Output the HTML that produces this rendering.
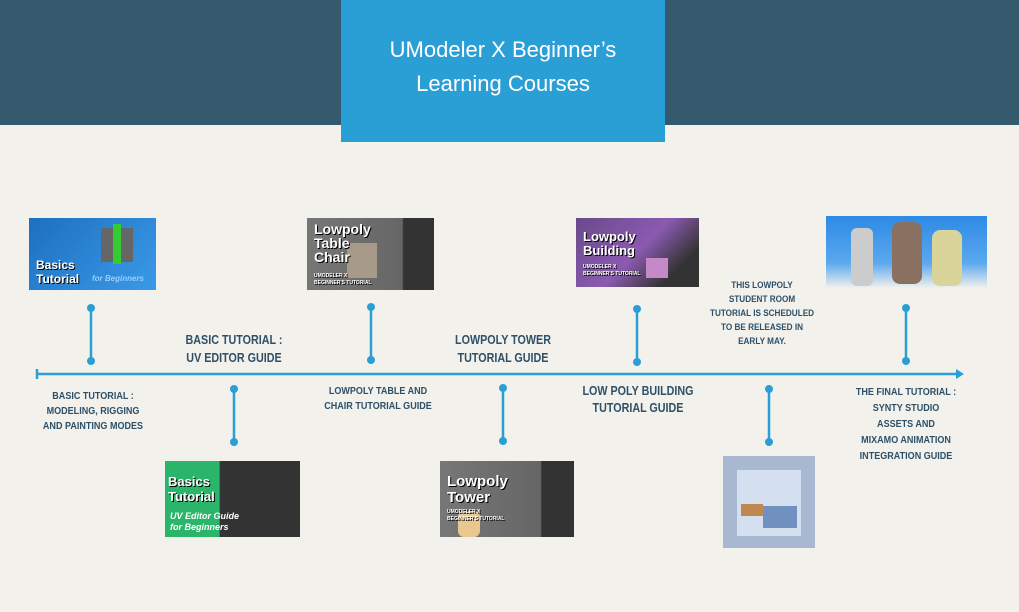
<!DOCTYPE html>
<html><head><meta charset="utf-8"><style>
*{margin:0;padding:0;box-sizing:border-box}
body{width:1019px;height:612px;background:#f2f1ec;position:relative;overflow:hidden;font-family:"Liberation Sans",sans-serif}
.hdr{position:absolute;left:0;top:0;width:1019px;height:125px;background:#355a6e}
.box{position:absolute;left:341px;top:0;width:324px;height:142px;background:#2a9fd6;color:#fff;font-family:"Liberation Sans",sans-serif;font-size:22px;text-align:center;line-height:34px;padding-top:33px}
.t{position:absolute;color:#2e5068;font-weight:bold;text-align:center;transform:translateX(-50%) scaleX(0.86);white-space:nowrap}
.img{position:absolute;overflow:hidden;font-family:"Liberation Sans",sans-serif;font-weight:bold;color:#fff}
.img b{position:absolute;text-shadow:1px 1px 0 #000}
</style></head><body>
<div class="hdr"></div>
<div class="box">UModeler X Beginner’s<br>Learning Courses</div>

<svg width="1019" height="612" style="position:absolute;left:0;top:0">
<g stroke="#2a9fd6" stroke-width="2.5" fill="#2a9fd6">
<line x1="37" y1="374" x2="958" y2="374"/>
<line x1="37" y1="369" x2="37" y2="379"/>
<polygon points="956,369 964,374 956,379" stroke="none"/>
<line x1="91" y1="308" x2="91" y2="361"/><circle cx="91" cy="308" r="4" stroke="none"/><circle cx="91" cy="361" r="4" stroke="none"/>
<line x1="371" y1="307" x2="371" y2="360"/><circle cx="371" cy="307" r="4" stroke="none"/><circle cx="371" cy="360" r="4" stroke="none"/>
<line x1="637" y1="309" x2="637" y2="362"/><circle cx="637" cy="309" r="4" stroke="none"/><circle cx="637" cy="362" r="4" stroke="none"/>
<line x1="906" y1="308" x2="906" y2="361"/><circle cx="906" cy="308" r="4" stroke="none"/><circle cx="906" cy="361" r="4" stroke="none"/>
<line x1="234" y1="389" x2="234" y2="442"/><circle cx="234" cy="389" r="4" stroke="none"/><circle cx="234" cy="442" r="4" stroke="none"/>
<line x1="503" y1="388" x2="503" y2="441"/><circle cx="503" cy="388" r="4" stroke="none"/><circle cx="503" cy="441" r="4" stroke="none"/>
<line x1="769" y1="389" x2="769" y2="442"/><circle cx="769" cy="389" r="4" stroke="none"/><circle cx="769" cy="442" r="4" stroke="none"/>
</g></svg>

<div class="img" style="left:29px;top:218px;width:127px;height:72px;background:linear-gradient(135deg,#1e6fc0,#3a9ae8)">
<div style="position:absolute;left:72px;top:10px;width:32px;height:34px;background:#666"></div>
<div style="position:absolute;left:84px;top:6px;width:8px;height:40px;background:#3c3"></div>
<b style="left:7px;top:40px;font-size:12px;line-height:14px">Basics<br>Tutorial</b><b style="left:63px;top:56px;font-size:8px;font-style:italic;color:#9cf;text-shadow:none">for Beginners</b></div>

<div class="img" style="left:307px;top:218px;width:127px;height:72px;background:linear-gradient(90deg,#777,#666 75%,#333 76%)">
<div style="position:absolute;left:40px;top:25px;width:30px;height:35px;background:#a89a88"></div>
<b style="left:7px;top:4px;font-size:14px;line-height:14px">Lowpoly<br>Table<br>Chair</b><b style="left:7px;top:55px;font-size:5px;line-height:7px">UMODELER X<br>BEGINNER'S TUTORIAL</b></div>

<div class="img" style="left:576px;top:218px;width:123px;height:69px;background:linear-gradient(135deg,#6a4a8a,#8a5ab0 50%,#333 80%)">
<div style="position:absolute;left:70px;top:40px;width:22px;height:20px;background:#c48ac8"></div>
<b style="left:7px;top:12px;font-size:13px;line-height:14px">Lowpoly<br>Building</b><b style="left:7px;top:46px;font-size:5px;line-height:7px">UMODELER X<br>BEGINNER'S TUTORIAL</b></div>

<div class="img" style="left:826px;top:216px;width:161px;height:72px;background:linear-gradient(180deg,#2d8ae6,#5aa8ee 65%,#f2f1ec)">
<div style="position:absolute;left:25px;top:12px;width:22px;height:58px;background:#ccc;border-radius:6px"></div>
<div style="position:absolute;left:66px;top:6px;width:30px;height:62px;background:#8a7060;border-radius:8px"></div>
<div style="position:absolute;left:106px;top:14px;width:30px;height:56px;background:#d8d49a;border-radius:8px"></div></div>

<div class="img" style="left:165px;top:461px;width:135px;height:76px;background:linear-gradient(90deg,#2ab56a 0,#2ab56a 40%,#333 41%)">
<b style="left:3px;top:13px;font-size:13px;line-height:15px">Basics<br>Tutorial</b><b style="left:5px;top:50px;font-size:9px;line-height:11px;font-style:italic;text-shadow:none">UV Editor Guide<br>for Beginners</b></div>

<div class="img" style="left:440px;top:461px;width:134px;height:76px;background:linear-gradient(90deg,#777,#666 75%,#333 76%)">
<div style="position:absolute;left:18px;top:50px;width:22px;height:26px;background:#e8c890;border-radius:6px"></div>
<b style="left:7px;top:13px;font-size:15px;line-height:16px">Lowpoly<br>Tower</b><b style="left:7px;top:48px;font-size:5px;line-height:7px">UMODELER X<br>BEGINNER'S TUTORIAL</b></div>

<div class="img" style="left:723px;top:456px;width:92px;height:92px;background:#a8b8d0">
<div style="position:absolute;left:14px;top:14px;width:64px;height:66px;background:#d4e0f0"></div>
<div style="position:absolute;left:40px;top:50px;width:34px;height:22px;background:#7090c0"></div>
<div style="position:absolute;left:18px;top:48px;width:22px;height:12px;background:#c08850"></div></div>

<div class="t" style="left:93px;top:389px;font-size:10.5px;line-height:15px">BASIC TUTORIAL :<br>MODELING, RIGGING<br>AND PAINTING MODES</div>
<div class="t" style="left:234px;top:331px;font-size:12.5px;line-height:18px">BASIC TUTORIAL :<br>UV EDITOR GUIDE</div>
<div class="t" style="left:378px;top:384px;font-size:10.5px;line-height:15px">LOWPOLY TABLE AND<br>CHAIR TUTORIAL GUIDE</div>
<div class="t" style="left:503px;top:331px;font-size:12.5px;line-height:18px">LOWPOLY TOWER<br>TUTORIAL GUIDE</div>
<div class="t" style="left:638px;top:383px;font-size:12.5px;line-height:17px">LOW POLY BUILDING<br>TUTORIAL GUIDE</div>
<div class="t" style="left:762px;top:279px;font-size:9.5px;line-height:14px">THIS LOWPOLY<br>STUDENT ROOM<br>TUTORIAL IS SCHEDULED<br>TO BE RELEASED IN<br>EARLY MAY.</div>
<div class="t" style="left:906px;top:384px;font-size:10.5px;line-height:16px">THE FINAL TUTORIAL :<br>SYNTY STUDIO<br>ASSETS AND<br>MIXAMO ANIMATION<br>INTEGRATION GUIDE</div>
</body></html>
